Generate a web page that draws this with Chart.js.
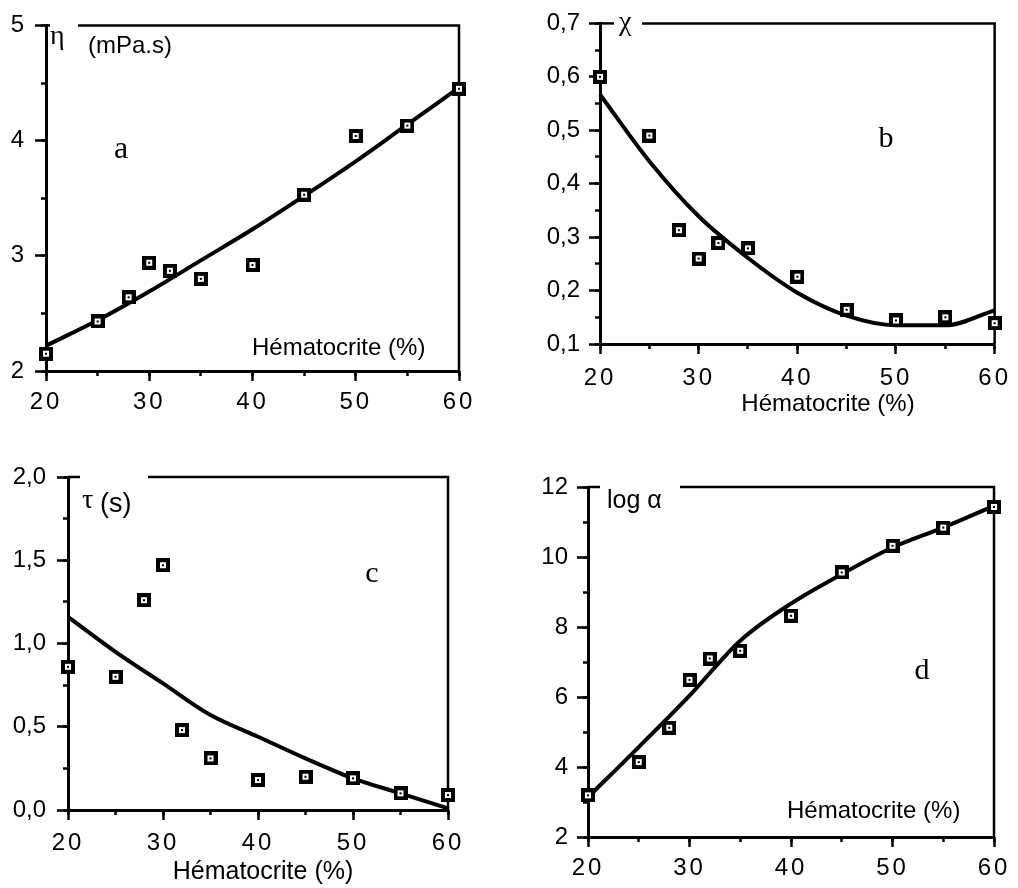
<!DOCTYPE html>
<html>
<head>
<meta charset="utf-8">
<script src="https://cdn.jsdelivr.net/npm/chart.js@4.4.0/dist/chart.umd.min.js"></script>
<style>
  html, body { margin: 0; padding: 0; background: #fff; }
  #wrap { position: relative; width: 1018px; height: 888px; }
  #wrap canvas { position: absolute; left: 0; top: 0; pointer-events: none; }
</style>
</head>
<body>
<div id="wrap">
  <canvas id="chartA" width="1018" height="888"></canvas>
  <canvas id="chartB" width="1018" height="888"></canvas>
  <canvas id="chartC" width="1018" height="888"></canvas>
  <canvas id="chartD" width="1018" height="888"></canvas>
</div>
<script>
const hematocrit = [20, 25, 28, 30, 32, 35, 40, 45, 50, 55, 60];
const fitHematocrit = [20, 25, 30, 35, 40, 45, 50, 55, 60];

const viscosity = [2.15, 2.43, 2.64, 2.94, 2.87, 2.80, 2.92, 3.53, 4.04, 4.13, 4.45];
const viscosityFit = [2.22, 2.44, 2.69, 2.96, 3.23, 3.52, 3.82, 4.14, 4.46];

const chi = [0.600, 0.490, 0.313, 0.260, 0.289, 0.279, 0.226, 0.164, 0.144, 0.150, 0.139];
const chiFit = [0.567, 0.442, 0.339, 0.261, 0.196, 0.153, 0.135, 0.135, 0.163];

const tau = [0.86, 0.80, 1.26, 1.47, 0.48, 0.31, 0.18, 0.20, 0.19, 0.10, 0.09];
const tauFit = [1.16, 0.95, 0.76, 0.57, 0.44, 0.31, 0.19, 0.10, 0.01];

const logAlpha = [3.19, 4.14, 5.12, 6.49, 7.10, 7.32, 8.32, 9.56, 10.32, 10.84, 11.43];
const logAlphaFit = [3.14, 4.57, 6.04, 7.61, 8.67, 9.51, 10.27, 10.84, 11.46];

const xTicks = { min: 20, max: 60, step: 10, minor: 5 };

const SANS = '"Liberation Sans", Arial, sans-serif';
const SERIF = '"Liberation Serif", "Times New Roman", serif';
const X_H = 50;   // fixed height of the x axis box

const panels = [
  {
    canvas: 'chartA', values: viscosity, fit: viscosityFit,
    y: { min: 2, max: 5, step: 1, minor: 0.5, decimals: 0 },
    area: { left: 46, top: 24, right: 459, bottom: 371 },
    yW: 46, xPad: 7, yPad: 11, topGap: 78, cap: 4,
    texts: [
      { text: 'η', x: 50, y: 44, font: '28px ' + SERIF },
      { text: '(mPa.s)', x: 88, y: 53, font: '24px ' + SANS },
      { text: 'a', x: 121, y: 158, font: '32px ' + SERIF, align: 'center' },
      { text: 'Hématocrite (%)', x: 252, y: 355, font: '24px ' + SANS }
    ]
  },
  {
    canvas: 'chartB', values: chi, fit: chiFit,
    y: { min: 0.1, max: 0.7, step: 0.1, minor: 0.05, decimals: 1 },
    area: { left: 600, top: 16, right: 999, bottom: 344 },
    yW: 70, xPad: 10, yPad: 9, topGap: 642, cap: 14,
    texts: [
      { text: 'χ', x: 619, y: 30, font: '28px ' + SERIF },
      { text: 'b', x: 886, y: 147, font: '30px ' + SERIF, align: 'center' },
      { text: 'Hématocrite (%)', x: 828, y: 411, font: '24px ' + SANS, align: 'center' }
    ]
  },
  {
    canvas: 'chartC', values: tau, fit: tauFit,
    y: { min: 0, max: 2, step: 0.5, minor: 0.25, decimals: 1 },
    area: { left: 68, top: 477, right: 448, bottom: 810 },
    yW: 68, xPad: 9, yPad: 11, topGap: 148, cap: 12,
    texts: [
      { text: 'τ', x: 82, y: 508, font: '28px ' + SERIF },
      { text: '(s)', x: 100, y: 512, font: '27px ' + SANS },
      { text: 'c', x: 372, y: 582, font: '30px ' + SERIF, align: 'center' },
      { text: 'Hématocrite (%)', x: 263, y: 879, font: '25px ' + SANS, align: 'center' }
    ]
  },
  {
    canvas: 'chartD', values: logAlpha, fit: logAlphaFit,
    y: { min: 2, max: 12, step: 2, minor: 1, decimals: 0 },
    area: { left: 588, top: 487, right: 994, bottom: 837 },
    yW: 70, xPad: 7, yPad: 9, topGap: 680, cap: 12,
    texts: [
      { text: 'log α', x: 607, y: 508, font: '25px ' + SANS },
      { text: 'd', x: 922, y: 679, font: '30px ' + SERIF, align: 'center' },
      { text: 'Hématocrite (%)', x: 787, y: 818, font: '24px ' + SANS }
    ]
  }
];

// hollow square marker with a dot in the middle
function makeMarker() {
  const c = document.createElement('canvas');
  c.width = 14; c.height = 14;
  const g = c.getContext('2d');
  g.fillStyle = '#000'; g.fillRect(0, 0, 14, 14);
  g.fillStyle = '#fff'; g.fillRect(4, 4, 6, 6);
  g.fillStyle = '#000'; g.fillRect(6, 6, 2, 2);
  return c;
}
const marker = makeMarker();

// top / right frame lines with the gap left for the axis label
const framePlugin = {
  id: 'frame',
  beforeDatasetsDraw(chart, args, opts) {
    const { ctx, chartArea: a } = chart;
    ctx.save();
    ctx.strokeStyle = '#000';
    ctx.lineWidth = 2.5;
    ctx.beginPath();
    ctx.moveTo(opts.topGap, a.top);
    ctx.lineTo(a.right, a.top);
    ctx.lineTo(a.right, a.bottom);
    ctx.stroke();
    ctx.beginPath();
    ctx.moveTo(a.left, a.top);
    ctx.lineTo(a.left + opts.cap, a.top);
    ctx.stroke();
    ctx.restore();
  },
  afterDraw(chart, args, opts) {
    const ctx = chart.ctx;
    ctx.save();
    ctx.fillStyle = '#000';
    ctx.textBaseline = 'alphabetic';
    opts.texts.forEach(t => {
      ctx.font = t.font;
      ctx.textAlign = t.align || 'left';
      ctx.fillText(t.text, t.x, t.y);
    });
    ctx.restore();
  }
};

// x tick labels in the original are letter-spaced ("2 0", "3 0" ...)
const spacedTicks = {
  id: 'spacedTicks',
  beforeDraw(chart) {
    const sc = chart.scales.x;
    if (sc && !sc._spaced) {
      const orig = sc.drawLabels;
      sc.drawLabels = function (area) {
        this.ctx.save();
        this.ctx.letterSpacing = '3px';
        orig.call(this, area);
        this.ctx.restore();
      };
      sc._spaced = true;
    }
  }
};

panels.forEach(p => {
  const points = p.values.map((v, i) => ({ x: hematocrit[i], y: v }));
  const fitPoints = p.fit.map((v, i) => ({ x: fitHematocrit[i], y: v }));

  new Chart(document.getElementById(p.canvas), {
    type: 'scatter',
    data: {
      datasets: [
        {
          data: points,
          pointStyle: marker,
          pointRadius: 7,
          pointHoverRadius: 7,
          showLine: false,
          clip: false,
          order: 0
        },
        {
          data: fitPoints,
          showLine: true,
          borderColor: '#000',
          borderWidth: 4,
          pointRadius: 0,
          cubicInterpolationMode: 'monotone',
          clip: false,
          order: 1
        }
      ]
    },
    options: {
      responsive: false,
      devicePixelRatio: 1,
      animation: false,
      events: [],
      layout: {
        padding: {
          left: p.area.left - p.yW,
          top: p.area.top,
          right: 1018 - p.area.right,
          bottom: 888 - p.area.bottom - X_H
        }
      },
      scales: {
        x: {
          type: 'linear', position: 'bottom', weight: 1,
          min: xTicks.min, max: xTicks.max,
          afterFit: s => { s.height = X_H; },
          border: { display: true, color: '#000', width: 3 },
          grid: { drawOnChartArea: false, drawTicks: true, tickLength: 10, tickWidth: 2.5, tickColor: '#000' },
          ticks: {
            stepSize: xTicks.step, autoSkip: false, maxRotation: 0, padding: p.xPad,
            color: '#000', font: { family: SANS, size: 24 },
            callback: v => String(v)
          }
        },
        xm: {
          type: 'linear', position: 'bottom', weight: 0,
          min: xTicks.min, max: xTicks.max,
          afterFit: s => { s.height = 0; },
          border: { display: false },
          grid: { drawOnChartArea: false, drawTicks: true, tickLength: 5, tickWidth: 2.5, tickColor: '#000' },
          ticks: { display: false, stepSize: xTicks.minor, autoSkip: false }
        },
        y: {
          type: 'linear', position: 'left', weight: 1,
          min: p.y.min, max: p.y.max,
          afterFit: s => { s.width = p.yW; },
          border: { display: true, color: '#000', width: 3 },
          grid: { drawOnChartArea: false, drawTicks: true, tickLength: 11, tickWidth: 2.5, tickColor: '#000' },
          ticks: {
            stepSize: p.y.step, autoSkip: false, padding: p.yPad,
            color: '#000', font: { family: SANS, size: 24 },
            callback: v => v.toFixed(p.y.decimals).replace('.', ',')
          }
        },
        ym: {
          type: 'linear', position: 'left', weight: 0,
          min: p.y.min, max: p.y.max,
          afterFit: s => { s.width = 0; },
          border: { display: false },
          grid: { drawOnChartArea: false, drawTicks: true, tickLength: 5, tickWidth: 2.5, tickColor: '#000' },
          ticks: { display: false, stepSize: p.y.minor, autoSkip: false }
        }
      },
      plugins: {
        legend: { display: false },
        tooltip: { enabled: false },
        frame: { topGap: p.topGap, cap: p.cap, texts: p.texts }
      }
    },
    plugins: [framePlugin, spacedTicks]
  });
});
</script>
</body>
</html>
